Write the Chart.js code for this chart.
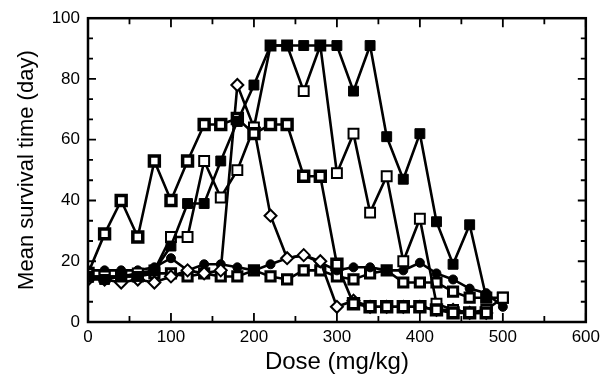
<!DOCTYPE html>
<html><head><meta charset="utf-8">
<script src="https://cdn.jsdelivr.net/npm/chart.js@4/dist/chart.umd.min.js"></script>
<style>html,body{margin:0;padding:0;background:#fff}#wrap{width:605px;height:381px}</style>
</head><body><div id="wrap"><canvas id="c" width="605" height="381"></canvas></div>
<script>
const doses = [0,20,40,60,80,100,120,140,160,180,200,220,240,260,280,300,320,340,360,380,400,420,440,460,480,500];
const zigzagPlateau = [16,29,40,28,53,40,53,65,65,67,62,65,65,48,48,19,6,5,5,5,5,4,3,3,3,null];
const filledTop    = [15,14,15,15,17,25,39,39,53,66,78,91,91,91,91,91,76,91,61,47,62,33,19,32,8,null];
const openTop      = [15,15,15,16,17,28,28,53,41,50,64,91,91,76,91,49,62,36,48,20,34,6,4,3,4,8];
const openDiamond  = [14,14,13,14,13,15,17,16,17,78,64,35,21,22,20,5,7,5,5,5,5,4,4,3,3,null];
const filledCircle = [17,17,17,17,18,21,17,19,19,18,17,19,21,22,19.5,17,18,18,17,17,19.5,16,14,11,9.5,5];
const openDotLow   = [15,15,15,15,16,16,15,16,15,15,17,15,14,17,17,15,14,16,17,13,13,13,10,8,8,8];
const xTicks = [0,100,200,300,400,500,600];
const yTicks = [0,20,40,60,80,100];

function pts(arr){ return doses.map((d,i)=>({x:d,y:arr[i]})); }
function ds(arr, style, bg, bw, r){
  return {data:pts(arr), borderColor:'#000', borderWidth:2.6, pointStyle:style,
    pointBackgroundColor:bg, pointBorderColor:'#000', pointBorderWidth:bw, pointRadius:r,
    pointHoverRadius:r, spanGaps:false, tension:0};
}
const frame = {
  id:'frame',
  afterDraw(chart){
    const {ctx, chartArea:a, scales:{x,y}} = chart;
    ctx.save();
    ctx.strokeStyle='#000'; ctx.lineWidth=2.5;
    ctx.strokeRect(a.left, a.top, a.right-a.left, a.bottom-a.top);
    ctx.lineWidth=1.8;
    ctx.beginPath();
    for(let v=0; v<=600; v+=50){
      const px = x.getPixelForValue(v); const L = v%100===0 ? 9 : 6;
      ctx.moveTo(px,a.bottom); ctx.lineTo(px,a.bottom-L);
      ctx.moveTo(px,a.top); ctx.lineTo(px,a.top+L);
    }
    for(let k=0;k<=15;k++){
      const py = y.getPixelForValue(k*20/3); const L = k%3===0 ? 8 : 5;
      ctx.moveTo(a.left,py); ctx.lineTo(a.left+L,py);
      ctx.moveTo(a.right,py); ctx.lineTo(a.right-L,py);
    }
    ctx.stroke();
    ctx.restore();
  }
};
new Chart(document.getElementById('c'), {
  type:'line',
  data:{datasets:[
    ds(filledTop,'rect','#000',1,7),
    ds(zigzagPlateau,'rect','#fff',3.5,7),
    ds(openTop,'rect','#fff',2,7),
    ds(openDiamond,'rectRot','#fff',2,6),
    ds(filledCircle,'circle','#000',1,4.5),
    ds(openDotLow,'rect','#fff',3,6.5)
  ]},
  options:{
    responsive:false, animation:false,
    layout:{padding:{top:15,right:17,left:0,bottom:0}},
    plugins:{legend:{display:false}, tooltip:{enabled:false}},
    scales:{
      x:{type:'linear', min:0, max:600,
        afterBuildTicks(s){ s.ticks = xTicks.map(v=>({value:v})); },
        afterFit(s){ s.height = 59; },
        grid:{display:false, drawTicks:false}, border:{display:false},
        ticks:{color:'#000', padding:5, font:{family:'Liberation Sans', size:17}, maxRotation:0},
        title:{display:true, text:'Dose (mg/kg)', color:'#000', font:{family:'Liberation Sans', size:24}, padding:{top:4,bottom:4}}
      },
      y:{min:0, max:100,
        afterBuildTicks(s){ s.ticks = yTicks.map(v=>({value:v})); },
        afterFit(s){ s.width = 88; },
        grid:{display:false, drawTicks:false}, border:{display:false},
        ticks:{color:'#000', padding:8, font:{family:'Liberation Sans', size:17}},
        title:{display:true, text:'Mean survival time (day)', color:'#000', font:{family:'Liberation Sans', size:22}, padding:{top:14,bottom:14}}
      }
    }
  },
  plugins:[frame]
});
</script></body></html>
